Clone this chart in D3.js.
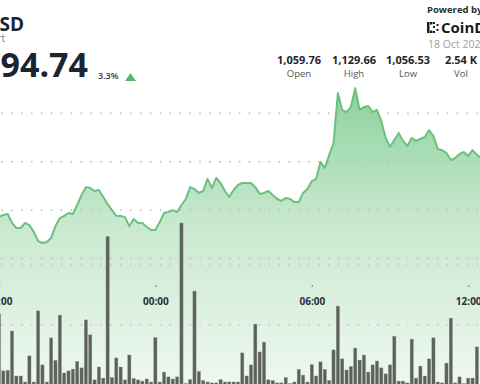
<!DOCTYPE html>
<html lang="en">
<head>
<meta charset="utf-8">
<script src="https://d3js.org/d3.v7.min.js"></script>
<style>
body { margin: 0; background: #fff; }
svg { display: block; font-family: "Open Sans", sans-serif; }
</style>
</head>
<body>
<script>
var width = 480, height = 384;

// 10 minute candles, first one at 18:00 on 17 Oct
var startTime = new Date(2025, 9, 17, 18, 0);
var stepMinutes = 10;

var prices = [
  1077.1, 1078.0, 1078.4, 1074.7, 1072.6, 1072.6, 1074.7, 1073.8, 1071.0, 1067.2,
  1066.4, 1066.8, 1068.5, 1073.4, 1076.7, 1077.6, 1078.8, 1078.4, 1082.1, 1086.2,
  1089.5, 1089.1, 1087.9, 1088.3, 1085.4, 1082.5, 1080.0, 1077.6, 1077.6, 1077.1,
  1073.4, 1076.3, 1074.7, 1074.7, 1073.0, 1071.8, 1071.8, 1075.1, 1078.8, 1079.2,
  1080.0, 1079.2, 1082.1, 1084.6, 1089.5, 1088.7, 1087.1, 1087.9, 1092.9, 1089.1,
  1093.3, 1091.2, 1087.9, 1085.4, 1088.3, 1090.4, 1091.2, 1091.2, 1091.2, 1089.5,
  1086.7, 1087.1, 1087.9, 1086.2, 1084.6, 1083.8, 1085.0, 1084.6, 1083.3, 1083.3,
  1087.1, 1088.7, 1092.0, 1092.9, 1099.9, 1097.4, 1102.8, 1107.7, 1128.4, 1121.4,
  1120.5, 1122.6, 1130.4, 1121.4, 1122.6, 1123.0, 1120.5, 1121.4, 1116.8, 1109.8,
  1106.1, 1109.0, 1111.9, 1108.6, 1106.5, 1109.8, 1108.6, 1109.4, 1110.2, 1113.1,
  1110.6, 1105.2, 1104.8, 1103.6, 1100.7, 1101.5, 1103.2, 1104.0, 1102.4, 1104.8,
  1102.8, 1101.5
];

var volumes = [
  23.7, 4.7, 4.9, 18.0, 3.0, 3.0, 1.0, 9.7, 1.0, 24.7,
  6.7, 1.0, 15.7, 8.2, 23.3, 4.0, 4.7, 5.3, 7.8, 5.7,
  21.7, 16.7, 1.7, 6.0, 2.3, 49.5, 2.5, 9.0, 6.0, 1.7,
  10.0, 2.2, 1.7, 1.3, 2.0, 1.0, 15.8, 1.0, 4.3, 2.7,
  2.0, 2.7, 54.0, 0.5, 1.8, 31.3, 4.5, 1.5, 1.0, 0.7,
  0.7, 1.8, 1.0, 1.0, 1.0, 1.0, 10.7, 3.0, 6.7, 20.3,
  11.0, 14.3, 1.7, 1.5, 0.7, 0.7, 2.5, 0.5, 1.0, 5.2,
  3.3, 1.0, 6.8, 3.0, 7.7, 5.2, 1.5, 11.7, 26.3, 8.7,
  5.0, 6.2, 12.3, 8.3, 10.0, 4.3, 6.7, 8.0, 5.7, 3.7,
  6.7, 16.2, 1.3, 1.3, 0.7, 15.3, 2.3, 6.3, 3.0, 8.7,
  15.7, 1.0, 0.7, 7.3, 22.3, 0.7, 2.7, 0.5, 2.3, 2.3,
  12.7
];

var priceTicks = [1060, 1080, 1100, 1120];
var volumeTicks = [20, 40];
var tickTimes = [
  new Date(2025, 9, 17, 18, 0), new Date(2025, 9, 18, 0, 0),
  new Date(2025, 9, 18, 6, 0), new Date(2025, 9, 18, 12, 0)
];

var statValues = ["1,059.76", "1,129.66", "1,056.53", "2.54 K"];
var statLabels = ["Open", "High", "Low", "Vol"];

function timeAt(i) { return d3.timeMinute.offset(startTime, i * stepMinutes); }

var priceData = prices.map(function(p, i) { return {t: timeAt(i), v: p}; });
var volData = volumes.map(function(v, i) { return {t: timeAt(i), v: v}; });

var svg = d3.select("body").append("svg")
  .attr("width", width)
  .attr("height", height);

var x = d3.scaleTime()
  .domain([startTime, new Date(2025, 9, 18, 12, 0)])
  .range([-1, 468.2]);

var y = d3.scaleLinear()
  .domain([1060, 1120])
  .range([258.5, 113.3]);

var yVol = d3.scaleLinear()
  .domain([0, 40])
  .range([385, 265]);

// gradient under the price line
var grad = svg.append("defs").append("linearGradient")
  .attr("id", "fillGrad")
  .attr("gradientUnits", "userSpaceOnUse")
  .attr("x1", 0).attr("y1", 85).attr("x2", 0).attr("y2", 384);
grad.append("stop").attr("offset", "0%").attr("stop-color", "#8ad19b");
grad.append("stop").attr("offset", "45%").attr("stop-color", "#c8e8ce");
grad.append("stop").attr("offset", "100%").attr("stop-color", "#eef8f0");

var area = d3.area()
  .x(function(d) { return x(d.t); })
  .y0(height + 1)
  .y1(function(d) { return y(d.v); });

var line = d3.line()
  .x(function(d) { return x(d.t); })
  .y(function(d) { return y(d.v); });

svg.append("path")
  .datum(priceData)
  .attr("d", area)
  .attr("fill", "url(#fillGrad)");

// dotted grid lines
svg.append("g").selectAll("line")
  .data(priceTicks)
  .enter().append("line")
  .attr("x1", 2).attr("x2", width)
  .attr("y1", function(d) { return y(d); })
  .attr("y2", function(d) { return y(d); })
  .attr("stroke", "#bcbcbc")
  .attr("stroke-width", 1.7)
  .attr("stroke-linecap", "round")
  .attr("stroke-dasharray", "0.1,9.8");

svg.append("g").selectAll("line")
  .data(volumeTicks)
  .enter().append("line")
  .attr("x1", 2).attr("x2", width)
  .attr("y1", function(d) { return yVol(d); })
  .attr("y2", function(d) { return yVol(d); })
  .attr("stroke", "#c4c4c4")
  .attr("stroke-width", 1.7)
  .attr("stroke-linecap", "round")
  .attr("stroke-dasharray", "0.1,9.8");

// volume bars
svg.append("g").selectAll("rect")
  .data(volData)
  .enter().append("rect")
  .attr("x", function(d) { return x(d.t) - 1.6; })
  .attr("width", 3.2)
  .attr("y", function(d) { return yVol(d.v); })
  .attr("height", function(d) { return yVol(0) - yVol(d.v); })
  .attr("fill", "#5c615c")
  .attr("stroke", "#8a8f8a")
  .attr("stroke-width", 0.4);

svg.append("path")
  .datum(priceData)
  .attr("d", line)
  .attr("fill", "none")
  .attr("stroke", "#6cc07f")
  .attr("stroke-width", 2)
  .attr("stroke-linejoin", "round");

// time axis
var axis = svg.append("g")
  .attr("transform", "translate(0,286)")
  .call(d3.axisBottom(x).tickValues(tickTimes).tickFormat(d3.timeFormat("%H:%M")).tickSize(0));
axis.select(".domain").remove();
axis.selectAll(".tick").append("circle").attr("r", 0.8).attr("fill", "#666");
axis.selectAll("text")
  .attr("y", 19).attr("dy", 0)
  .attr("fill", "#2b2f33")
  .style("font-size", "10px")
  .style("font-weight", "700")
  .style("font-family", "'Open Sans', sans-serif");

// header, left side
svg.append("text").attr("x", 24).attr("y", 31)
  .attr("text-anchor", "end")
  .attr("fill", "#1c2430")
  .style("font-size", "19px").style("font-weight", "700")
  .text("BNB/USD");
svg.append("text").attr("x", 5).attr("y", 42)
  .attr("text-anchor", "end")
  .attr("fill", "#777")
  .style("font-size", "10px")
  .text("24h Price Chart");
svg.append("text").attr("x", 88).attr("y", 77)
  .attr("text-anchor", "end")
  .attr("fill", "#1c2430")
  .style("font-size", "34px").style("font-weight", "700")
  .text("1,094.74");
svg.append("text").attr("x", 98).attr("y", 79)
  .attr("fill", "#3a3f44")
  .style("font-size", "9px").style("font-weight", "600")
  .text("3.3%");
svg.append("path")
  .attr("d", "M125,81 L136,81 L130.5,73 Z")
  .attr("fill", "#5cb56c");

// header, right side
svg.append("text").attr("x", 427).attr("y", 13)
  .attr("fill", "#2b2f33")
  .style("font-size", "9.5px").style("font-weight", "700")
  .text("Powered by");

var logo = svg.append("g").attr("transform", "translate(427,22)");
[[0,0,2.5,11],[3,0,2.5,2.5],[3,8.5,2.5,2.5],[6,0,2,2],[6,4,2,2],[6,9,2,2],[9.5,2,2,2],[9.5,7,2,2]]
  .forEach(function(r) {
    logo.append("rect").attr("x", r[0]).attr("y", r[1]).attr("width", r[2]).attr("height", r[3]).attr("fill", "#1c1c1c");
  });
svg.append("text").attr("x", 441).attr("y", 33)
  .attr("fill", "#1c1c1c")
  .style("font-size", "15px").style("font-weight", "700")
  .text("CoinDesk");

svg.append("text").attr("x", 428).attr("y", 48)
  .attr("fill", "#a0a0a0")
  .style("font-size", "10.5px")
  .text("18 Oct 2025");

var statX = [299, 354, 408, 461];
statValues.forEach(function(s, i) {
  svg.append("text").attr("x", statX[i]).attr("y", 64)
    .attr("text-anchor", "middle")
    .attr("fill", "#1c2430")
    .style("font-size", "11px").style("font-weight", "700")
    .text(s);
  svg.append("text").attr("x", statX[i]).attr("y", 77)
    .attr("text-anchor", "middle")
    .attr("fill", "#555")
    .style("font-size", "9.5px")
    .text(statLabels[i]);
});
</script>
</body>
</html>
